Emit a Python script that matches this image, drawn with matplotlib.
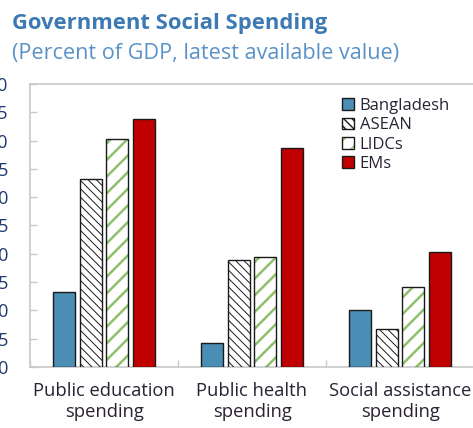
import matplotlib
matplotlib.use("Agg")
import matplotlib.pyplot as plt
import numpy as np
from matplotlib.legend_handler import HandlerTuple

plt.rcParams['font.family'] = ['Open Sans', 'DejaVu Sans']

# Spending categories and series (percent of GDP)
categories = ["Public education\nspending", "Public health\nspending", "Social assistance\nspending"]
series_names = ["Bangladesh", "ASEAN", "LIDCs", "EMs"]
bangladesh = [1.33, 0.42, 1.01]
asean = [3.32, 1.89, 0.68]
lidcs = [4.03, 1.94, 1.42]
ems = [4.38, 3.87, 2.04]
yticks = [0.0, 0.5, 1.0, 1.5, 2.0, 2.5, 3.0, 3.5, 4.0, 4.5, 5.0]

fig = plt.figure(figsize=(4.73, 4.28), dpi=100)
ax = fig.add_axes([30 / 473, 1 - 367 / 428, 444 / 473, 283 / 428])

x = np.arange(len(categories))
pitch = 0.182
width = 0.149
offsets = (np.arange(4) - 1.5) * pitch
edge = '#1a1a1a'

b1 = ax.bar(x + offsets[0], bangladesh, width, color='#4a8db5', edgecolor=edge, linewidth=1.0, zorder=3)

with plt.rc_context({'hatch.linewidth': 0.7}):
    b2 = ax.bar(x + offsets[1], asean, width, color='white', edgecolor='#3a3a3a',
                hatch='\\\\\\\\', linewidth=1.0, zorder=3)
    for p in b2:
        p.set_edgecolor(edge)

with plt.rc_context({'hatch.linewidth': 1.8}):
    b3f = ax.bar(x + offsets[2], lidcs, width, color='white', edgecolor='#8cc16a',
                 hatch='//', linewidth=0, zorder=3)
b3e = ax.bar(x + offsets[2], lidcs, width, color='none', edgecolor=edge, linewidth=1.0, zorder=4)

b4 = ax.bar(x + offsets[3], ems, width, color='#c00000', edgecolor=edge, linewidth=1.0, zorder=3)

ax.set_xlim(-0.5, len(categories) - 0.5)
ax.set_ylim(0, 5)
ax.set_yticks(yticks)
ax.set_yticklabels([f"{v:.1f}" for v in yticks])
ax.set_xticks(x)
ax.set_xticklabels(categories, fontsize=13.2, color='#2a2233', linespacing=1.2)
ax.set_xticks(np.arange(len(categories) + 1) - 0.5, minor=True)

spine_c = '#c8c8c8'
for s in ['top', 'left', 'bottom', 'right']:
    ax.spines[s].set_color(spine_c)
    ax.spines[s].set_linewidth(1.2)

ax.tick_params(axis='x', which='major', length=0, pad=11)
ax.tick_params(axis='x', which='minor', direction='in', length=5, color=spine_c, width=1)
ax.tick_params(axis='y', direction='in', length=5, color=spine_c, width=1,
               labelsize=13, labelcolor='#1f3a70', pad=15.5)

handles = [b1, b2, (b3f, b3e), b4]
leg = ax.legend(handles, series_names, loc='upper left', bbox_to_anchor=(312 / 444, 1 - 14 / 283),
                frameon=False, fontsize=12, handlelength=0.7, handleheight=0.7,
                handletextpad=0.35, labelspacing=0.2, borderpad=0, borderaxespad=0,
                handler_map={tuple: HandlerTuple(ndivide=1, pad=0)})
for t in leg.get_texts():
    t.set_color('#2a2233')

fig.text(12 / 473, 1 - 29 / 428, "Government Social Spending", fontsize=15.8, fontweight='bold',
         color='#3d7ab3', ha='left', va='baseline')
fig.text(12 / 473, 1 - 59 / 428, "(Percent of GDP, latest available value)", fontsize=15.6,
         color='#5a92c8', ha='left', va='baseline')

fig.savefig("out.png", dpi=100)
